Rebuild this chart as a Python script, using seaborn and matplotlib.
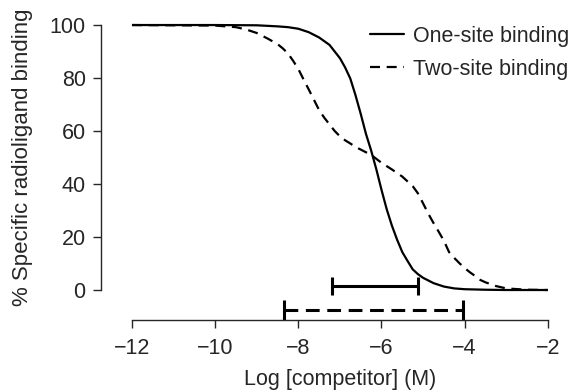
import numpy as np
import pandas as pd
import matplotlib
matplotlib.use("Agg")
import matplotlib.pyplot as plt
import matplotlib.transforms as mtransforms
from matplotlib.lines import Line2D
import seaborn as sns

# curve readings (log molar competitor vs % specific binding)
one_site_x = [-12, -10, -9, -8.5, -8.25, -8.0, -7.75, -7.5, -7.25, -7.0, -6.875, -6.75,
              -6.625, -6.5, -6.375, -6.25, -6.125, -6.0, -5.875, -5.75, -5.625, -5.5,
              -5.375, -5.25, -5.125, -5.0, -4.75, -4.5, -4.25, -4.0, -3.5, -3.0, -2.0]
one_site_y = [100, 100, 99.9, 99.5, 99.2, 98.6, 97.3, 95.3, 92.5, 87.5, 84, 79.8,
              73.5, 66.5, 59, 52.7, 45.6, 37.8, 30.5, 24.3, 19, 14.3,
              11, 7.8, 6, 4.6, 2.6, 1.3, 0.6, 0.3, 0.1, 0, 0]

two_site_x = [-12, -10, -9.5, -9.25, -9.0, -8.75, -8.5, -8.375, -8.25, -8.125, -8.0,
              -7.875, -7.75, -7.625, -7.5, -7.375, -7.25, -7.125, -7.0, -6.875, -6.75,
              -6.625, -6.5, -6.375, -6.25, -6.0, -5.75, -5.5, -5.25, -5.125, -5.0,
              -4.875, -4.75, -4.625, -4.5, -4.375, -4.25, -4.125, -4.0, -3.875, -3.75,
              -3.625, -3.5, -3.25, -3.0, -2.5, -2.0]
two_site_y = [100, 99.8, 99.2, 98.3, 97, 95, 92.8, 91.2, 89.3, 86.5, 83.4,
              79.5, 75.7, 71.8, 67.9, 65, 62.5, 60, 58, 56.5, 55.3,
              54, 53, 52, 51, 48, 45.5, 42.8, 39.2, 36.5, 32.7,
              28.8, 25.3, 22, 18.6, 14.3, 12.1, 10.1, 8.3, 6.7, 5.3,
              3.8, 2.9, 1.5, 0.6, 0.1, 0]

# range bars under the curves
bar_lo = [-7.2, -8.34]
bar_hi = [-5.13, -4.03]
bar_y = [1.5, -7.5]

labels = ["One-site binding", "Two-site binding"]

df = pd.concat([
    pd.DataFrame({"logx": one_site_x, "binding": one_site_y, "model": labels[0]}),
    pd.DataFrame({"logx": two_site_x, "binding": two_site_y, "model": labels[1]}),
])

sns.set_style("ticks")
plt.rcParams["font.family"] = ["Liberation Sans", "DejaVu Sans"]
fs = 15.5

W, H = 577, 392
fig = plt.figure(figsize=(W / 100, H / 100), dpi=100)
# axes box in pixel terms: left 101, right 552, top 20, bottom 320
ax = fig.add_axes([101 / W, (H - 320) / H, (552 - 101) / W, (320 - 20) / H])

sns.lineplot(data=df, x="logx", y="binding", hue="model", style="model",
             palette=["black", "black"], dashes=[(1, 0), (4.5, 3)],
             linewidth=1.6, legend=False, ax=ax, sort=False)

for i in range(2):
    center = (bar_lo[i] + bar_hi[i]) / 2
    half = (bar_hi[i] - bar_lo[i]) / 2
    eb = ax.errorbar(center, bar_y[i], xerr=half, fmt="none", ecolor="black",
                     elinewidth=2.2, capsize=7 if i == 1 else 6.5, capthick=2.2, clip_on=False)
    if i == 1:
        eb[2][0].set_linestyle((0, (4.5, 2.5)))

ax.set_xlim(-12.745, -1.9)
ax.set_ylim(-11.32, 101.9)
ax.set_xticks([-12, -10, -8, -6, -4, -2])
ax.set_xticklabels(["\u221212", "\u221210", "\u22128", "\u22126", "\u22124", "\u22122"])
ax.set_yticks([0, 20, 40, 60, 80, 100])
ax.spines["left"].set_bounds(0, 100)
ax.spines["bottom"].set_bounds(-12, -2)
sns.despine(ax=ax)
for s in ["left", "bottom"]:
    ax.spines[s].set_linewidth(1.0)
ax.tick_params(direction="out", length=6, width=1.0, labelsize=fs)
ax.tick_params(axis="x", pad=7)
ax.tick_params(axis="y", pad=5)

# labels centred on the spines rather than the axes box
ax.set_xlabel("Log [competitor] (M)", fontsize=fs)
ax.set_ylabel("% Specific radioligand binding", fontsize=16)
ax.xaxis.set_label_coords(-7, -0.165,
                          transform=mtransforms.blended_transform_factory(ax.transData, ax.transAxes))
ax.yaxis.set_label_coords(-0.15, 50,
                          transform=mtransforms.blended_transform_factory(ax.transAxes, ax.transData))

handles = [Line2D([], [], color="black", lw=1.6),
           Line2D([], [], color="black", lw=1.6, linestyle=(0, (4.5, 3)))]
fig.legend(handles, labels, loc="upper left", bbox_to_anchor=(370 / W, 1 - 26 / H),
           frameon=False, borderpad=0, borderaxespad=0, handlelength=1.6,
           handletextpad=0.4, labelspacing=0.55, fontsize=fs)

fig.savefig("out.png", dpi=100)
